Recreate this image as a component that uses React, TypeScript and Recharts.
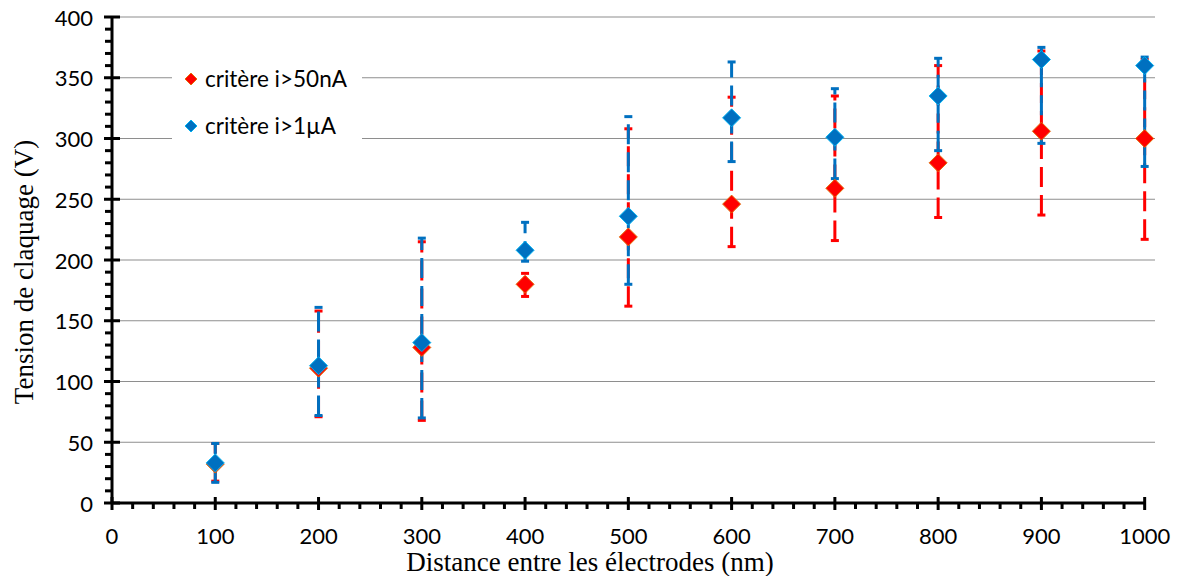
import React from 'react';
import {
  ScatterChart, Scatter, XAxis, YAxis, ErrorBar, ReferenceLine, Legend, Label,
} from 'recharts';

// distance between electrodes (nm)
const distances = [100, 200, 300, 400, 500, 600, 700, 800, 900, 1000];

// critère i>50nA
const red50nA = [32, 111, 128, 180, 219, 246, 259, 280, 306, 300];
const red50nALow = [18, 71, 68, 170, 162, 211, 216, 235, 237, 217];
const red50nAHigh = [49, 158, 215, 189, 308, 334, 335, 360, 372, 365];

// critère i>1µA
const blue1uA = [33, 113, 132, 208, 236, 317, 301, 335, 365, 360];
const blue1uALow = [17, 72, 70, 199, 180, 281, 267, 290, 296, 277];
const blue1uAHigh = [49, 161, 218, 231, 318, 363, 341, 366, 375, 367];

const xTicks = [0, 20, 40, 60, 80, 100, 120, 140, 160, 180, 200, 220, 240, 260, 280, 300, 320, 340, 360, 380, 400, 420, 440, 460, 480, 500, 520, 540, 560, 580, 600, 620, 640, 660, 680, 700, 720, 740, 760, 780, 800, 820, 840, 860, 880, 900, 920, 940, 960, 980, 1000];
const yTicks = [0, 10, 20, 30, 40, 50, 60, 70, 80, 90, 100, 110, 120, 130, 140, 150, 160, 170, 180, 190, 200, 210, 220, 230, 240, 250, 260, 270, 280, 290, 300, 310, 320, 330, 340, 350, 360, 370, 380, 390, 400];
const gridValues = [50, 100, 150, 200, 250, 300, 350, 400];

const series = [
  { name: 'critère i>50nA', fill: '#ff0000', edge: '#e46c0a', bar: '#ff0000', y: red50nA, lo: red50nALow, hi: red50nAHigh },
  { name: 'critère i>1µA', fill: '#0070c0', edge: '#00b0f0', bar: '#0070c0', y: blue1uA, lo: blue1uALow, hi: blue1uAHigh },
];

const buildRows = (s: typeof series[number]) =>
  distances.map((x, i) => ({ x, y: s.y[i], err: [s.y[i] - s.lo[i], s.hi[i] - s.y[i]] }));

const tickFont = 'Lato, "Open Sans", sans-serif';
const titleFont = '"Liberation Serif", "Times New Roman", serif';

const Diamond = ({ cx, cy, fill, stroke, r = 9 }: any) => (
  <polygon
    points={`${cx},${cy - r} ${cx + r},${cy} ${cx},${cy + r} ${cx - r},${cy}`}
    fill={fill}
    stroke={stroke}
    strokeWidth={1}
  />
);

const YTick = ({ x, y, payload }: any) => {
  const v = payload.value;
  const major = v % 50 === 0;
  return (
    <g>
      <line x1={major ? x - 8 : x - 7} x2={major ? x + 8 : x} y1={y} y2={y} stroke="#000" strokeWidth={3} />
      {major && (
        <text x={x - 19} y={y} textAnchor="end" dominantBaseline="central" fontSize={22} fontFamily={tickFont} fill="#000">
          {v}
        </text>
      )}
    </g>
  );
};

const XTick = ({ x, y, payload }: any) => {
  const v = payload.value;
  const major = v % 100 === 0;
  return (
    <g>
      <line x1={x} x2={x} y1={major ? y - 6 : y} y2={major ? y + 7 : y + 6} stroke="#000" strokeWidth={3} />
      {major && (
        <text x={x} y={y + 32} textAnchor="middle" dominantBaseline="central" fontSize={22} fontFamily={tickFont} fill="#000">
          {v}
        </text>
      )}
    </g>
  );
};

const LegendBox = () => (
  <div style={{ fontFamily: tickFont, fontSize: 22.5, color: '#000' }}>
    {series.map((s, i) => (
      <div key={s.name} style={{ position: 'absolute', left: 12, top: i === 0 ? 8 : 55, display: 'flex', alignItems: 'center', whiteSpace: 'nowrap' }}>
        <svg width={14} height={14} style={{ marginRight: 7 }}>
          <Diamond cx={7} cy={7} r={6} fill={s.fill} stroke={s.edge} />
        </svg>
        <span>{s.name}</span>
      </div>
    ))}
  </div>
);

export default function App() {
  return (
    <div style={{ position: 'absolute', left: 0, top: 0, background: '#fff' }}>
      <ScatterChart width={1177} height={576} margin={{ top: 17, right: 22, bottom: 3, left: 0 }}>
        <XAxis
          type="number"
          dataKey="x"
          domain={[0, 1010]}
          ticks={xTicks}
          interval={0}
          axisLine={false}
          tickLine={false}
          tickSize={0}
          tickMargin={0}
          height={70}
          tick={<XTick />}
        >
          <Label
            content={({ viewBox }: any) => (
              <text x={590} y={viewBox.y + 59} textAnchor="middle" dominantBaseline="central" fontSize={27} fontFamily={titleFont} fill="#000">
                Distance entre les électrodes (nm)
              </text>
            )}
          />
        </XAxis>
        <YAxis
          type="number"
          dataKey="y"
          domain={[0, 400]}
          ticks={yTicks}
          interval={0}
          axisLine={{ stroke: '#000', strokeWidth: 3 }}
          tickLine={false}
          tickSize={0}
          tickMargin={0}
          width={112}
          tick={<YTick />}
        >
          <Label
            content={() => (
              <text x={24} y={272} transform="rotate(-90 24 272)" textAnchor="middle" dominantBaseline="central" fontSize={27} fontFamily={titleFont} fill="#000">
                Tension de claquage (V)
              </text>
            )}
          />
        </YAxis>
        {gridValues.map((v) => (
          <ReferenceLine key={v} y={v} stroke="#8e8e8e" strokeWidth={1.2} />
        ))}
        <ReferenceLine segment={[{ x: 0, y: 0 }, { x: 1000, y: 0 }]} stroke="#000" strokeWidth={3} />
        {series.map((s) => (
          <Scatter
            key={s.name}
            name={s.name}
            data={buildRows(s)}
            fill={s.fill}
            isAnimationActive={false}
            shape={(p: any) => <Diamond cx={p.cx} cy={p.cy} fill={s.fill} stroke={s.edge} />}
          >
            <ErrorBar
              dataKey="err"
              direction="y"
              width={4}
              stroke={s.bar}
              strokeWidth={3}
              strokeDasharray="20 8"
              isAnimationActive={false}
            />
          </Scatter>
        ))}
        <Legend
          layout="vertical"
          align="center"
          verticalAlign="middle"
          content={<LegendBox />}
          wrapperStyle={{ position: 'absolute', left: 172, top: 57, width: 190, height: 88, background: '#fff' }}
        />
      </ScatterChart>
    </div>
  );
}
